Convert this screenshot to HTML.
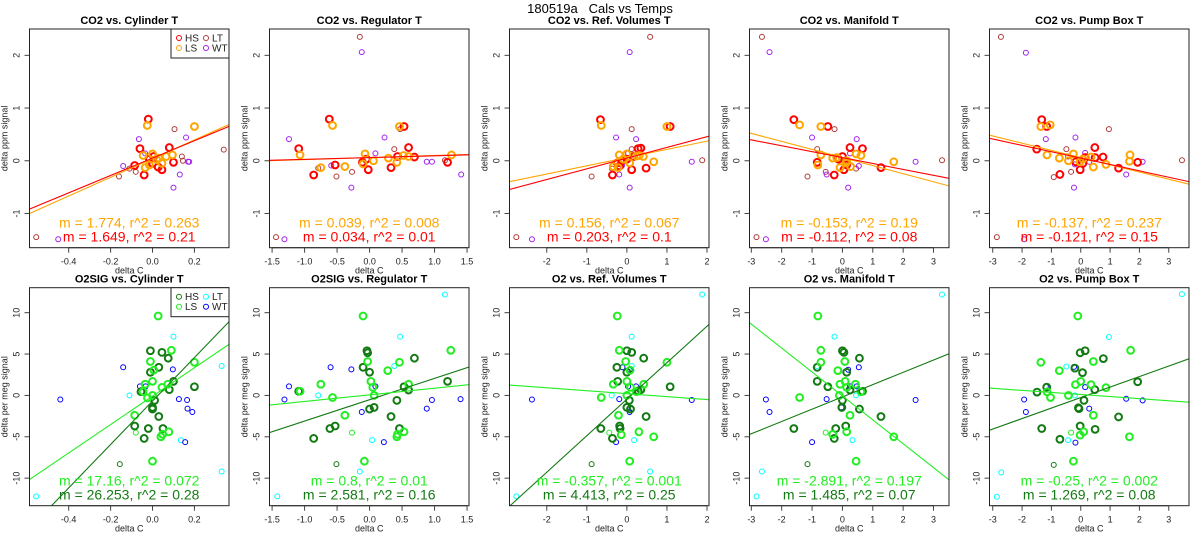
<!DOCTYPE html>
<html><head><meta charset="utf-8">
<style>
html,body{margin:0;padding:0;background:#fff;}
svg{display:block;font-family:"Liberation Sans",sans-serif;}
</style></head>
<body>
<svg id="chart" width="1200" height="550" viewBox="0 0 1200 550" xmlns="http://www.w3.org/2000/svg">
<rect x="0" y="0" width="1200" height="550" fill="#fff"/>
<text x="600" y="13" text-anchor="middle" font-size="13" fill="#000">180519a&#160;&#160;&#160;Cals vs Temps</text>
</svg>
<script>
// ---- data (top row: CO2, bottom row: O2) ----
const panelTitles = ["CO2 vs. Cylinder T","CO2 vs. Regulator T","CO2 vs. Ref. Volumes T","CO2 vs. Manifold T","CO2 vs. Pump Box T",
 "O2SIG vs. Cylinder T","O2SIG vs. Regulator T","O2 vs. Ref. Volumes T","O2 vs. Manifold T","O2 vs. Pump Box T"];
const xLimits = [[-0.587,0.365],[-1.54,1.53],[-2.93,2.05],[-3.06,3.51],[-3.11,3.69],
 [-0.587,0.365],[-1.54,1.53],[-2.93,2.05],[-3.06,3.51],[-3.11,3.69]];
const xTicks = [[-0.4,-0.2,0,0.2],[-1.5,-1,-0.5,0,0.5,1,1.5],[-2,-1,0,1,2],[-3,-2,-1,0,1,2,3],[-3,-2,-1,0,1,2,3]];
const xTickLabels = [["-0.4","-0.2","0.0","0.2"],["-1.5","-1.0","-0.5","0.0","0.5","1.0","1.5"],["-2","-1","0","1","2"],["-3","-2","-1","0","1","2","3"],["-3","-2","-1","0","1","2","3"]];
const yLimitsTop = [-1.65,2.5];
const yLimitsBottom = [-13.33,13.02];
const yTicksTop = [-1,0,1,2];
const yTicksBottom = [-10,-5,0,5,10];

const seriesHS = [
 [[-0.02,0.79],[-0.06,0.23],[-0.085,-0.09],[-0.04,-0.27],[-0.015,0.03],[0.005,0.08],[0.027,-0.12],[0.045,-0.17],[0.08,0.25],[0.1,-0.03],[0,-0.05]],
 [[-0.62,0.79],[-1.09,0.23],[-0.86,-0.27],[-0.53,-0.08],[-0.11,-0.03],[-0.02,-0.17],[0.33,-0.13],[0.53,0.65],[0.6,0.25],[0.43,0.08],[0.69,0.07],[1.2,-0.03],[-0.05,0.03]],
 [[-0.66,0.78],[-0.36,-0.27],[-0.24,-0.04],[0.28,0.23],[0.35,0.24],[0.12,-0.17],[0.48,-0.14],[1.08,0.65],[0,0.03],[-0.13,0],[0.16,0.08],[-0.18,-0.1]],
 [[-1.6,0.78],[-0.48,0.65],[-0.83,-0.03],[-0.27,-0.27],[0.25,0.25],[0.66,0.23],[0.05,-0.17],[1.27,-0.13],[0,0.08],[0.14,-0.08],[-0.13,0.03]],
 [[-1.33,0.78],[-1.16,0.65],[-1.5,0.22],[-0.71,-0.26],[-0.17,-0.02],[-0.02,-0.17],[0.48,0.25],[0.49,0.06],[0.76,0.07],[1.29,-0.14],[1.94,-0.03],[0.07,-0.05],[0.15,0.06]],
 [[-0.01,5.4],[0.045,5.2],[0.075,4.5],[0.03,3.4],[-0.01,2.8],[0.1,1.7],[0.08,0.7],[0.2,1.05],[0.01,-0.6],[0,-1.45],[0,-1.65],[0.03,-2.55],[-0.085,-3.7],[-0.02,-4.0],[0.05,-4.0],[-0.04,-5.2],[-0.055,0.45]],
 [[-0.04,5.4],[-0.03,5.15],[-0.1,3.4],[0,2.8],[0.69,4.5],[0.53,1.05],[0.6,0.65],[1.2,1.7],[0.42,-0.6],[0,-1.65],[0.07,-1.45],[0.33,-2.55],[-0.61,-4.0],[-0.53,-3.7],[0.46,-4.0],[-0.86,-5.2],[-1.09,0.5]],
 [[0,5.4],[0.12,5.2],[0.42,4.5],[-0.25,3.4],[0,2.8],[-0.23,1.7],[0.35,0.7],[1.08,1.05],[0.06,-0.6],[0,-1.45],[0.09,-1.65],[0.48,-2.55],[-0.18,-3.7],[-0.65,-4.0],[-0.17,-4.0],[-0.36,-5.2],[0.28,0.55]],
 [[0,5.4],[0.05,5.2],[0.56,4.5],[-0.83,3.4],[0.14,2.8],[-0.83,1.7],[-0.48,1.05],[0.25,0.65],[0,-0.6],[-0.02,-1.45],[0.56,-1.65],[1.27,-2.55],[0.11,-3.7],[-1.6,-4.0],[-0.22,-4.0],[-0.27,-5.2],[0.66,0.5]],
 [[-0.02,5.15],[0.15,5.4],[0.77,4.45],[-0.2,3.3],[0.06,2.75],[1.94,1.65],[0.48,0.7],[-1.16,1.0],[-1.49,0.4],[0.11,-0.6],[-0.08,-1.5],[-0.06,-1.6],[1.29,-2.6],[-0.02,-3.7],[-1.33,-4.0],[0.49,-4.1],[-0.71,-5.3]]
];
const seriesLS = [
 [[-0.025,0.67],[0.2,0.65],[-0.045,0.1],[-0.035,-0.13],[0,0.13],[-0.015,-0.08],[0.02,0.02],[0.045,-0.05],[0.065,0.08],[0.095,0.11],[0.03,0.05]],
 [[-0.57,0.67],[0.46,0.65],[-1.07,0.11],[-0.75,-0.13],[-0.38,-0.11],[-0.07,0.13],[-0.1,-0.06],[0.06,0],[0.29,0.05],[0.42,-0.03],[0.52,0.1],[1.26,0.11],[0.6,0.08]],
 [[-0.64,0.67],[1.0,0.65],[0.67,-0.02],[-0.19,0.11],[-0.34,-0.11],[-0.22,-0.13],[0,0.13],[0.07,-0.04],[0.24,0.09],[0.41,0.08],[-0.09,0.03],[0.31,0.1]],
 [[-1.41,0.68],[-0.71,0.65],[-0.71,0.11],[-0.81,-0.08],[-0.32,0.05],[-0.19,0.06],[-0.08,-0.13],[0.27,-0.11],[0.45,0.13],[0.61,0.1],[1.69,-0.02],[0.14,0],[0.12,-0.04]],
 [[-1.36,0.65],[-1.04,0.68],[-1.15,0.11],[-0.73,0.05],[-0.42,0],[-0.25,0.13],[-0.02,-0.02],[0.35,0.07],[0.43,-0.12],[0.86,-0.07],[1.68,0.11],[1.66,-0.01],[0.07,0.03]],
 [[0.027,9.6],[0.09,5.45],[-0.01,4.1],[0.2,4.0],[0.006,3.05],[0,1.7],[-0.035,1.35],[0.073,1.35],[0.045,0.97],[0,0],[-0.024,-0.3],[-0.085,-2.4],[0.078,-4.4],[0.048,-4.7],[0.04,-5.0],[0,-7.95],[-0.045,0.45]],
 [[-0.1,9.6],[1.25,5.45],[-0.03,4.1],[0.46,4.0],[0.28,3.0],[0.02,1.7],[-0.75,1.35],[0.6,1.35],[0.05,0.97],[0.07,0],[-0.57,-0.25],[-0.38,-2.4],[0.53,-4.4],[0.43,-4.7],[0.42,-5.0],[-0.08,-7.95],[-1.07,0.5]],
 [[-0.24,9.6],[-0.19,5.45],[-0.03,4.1],[1.0,4.0],[0.08,3.05],[0,1.7],[-0.34,1.35],[0.42,1.35],[0.09,0.97],[0,0],[-0.64,-0.25],[-0.21,-2.4],[0.3,-4.4],[-0.14,-4.75],[0.67,-5.0],[0.07,-7.95],[0.24,0.45]],
 [[-0.81,9.6],[-0.71,5.45],[0.08,4.1],[-0.71,4.0],[-0.15,3.0],[0.09,1.7],[-0.08,1.35],[0.43,1.35],[0.14,0.97],[-0.1,0],[-1.41,-0.25],[0.25,-2.4],[0.14,-4.4],[-0.32,-4.7],[1.69,-5.0],[0.45,-7.95],[0.61,0.45]],
 [[-0.1,9.6],[1.7,5.45],[-1.36,4.0],[0.43,4.1],[-0.73,3.0],[0,1.7],[-0.18,1.3],[0.35,1.3],[0.86,0.94],[-0.42,0],[-1.03,-0.25],[-1.15,0.43],[0.43,-2.4],[0.1,-4.4],[-0.02,-4.8],[1.66,-5.0],[-0.25,-7.95]]
];
const seriesLT = [
 [[-0.555,-1.45],[-0.16,-0.3],[-0.11,-0.15],[0.105,0.6],[0.14,0.08],[0.145,0.0],[0.34,0.21],[-0.08,-0.21]],
 [[-1.44,-1.45],[-0.15,2.35],[-0.79,-0.14],[-0.51,-0.3],[0.38,0.22],[0.47,0.6],[1.16,0.01],[-0.27,-0.21]],
 [[-2.76,-1.45],[0.58,2.35],[-0.88,-0.3],[0.12,0.6],[0.12,0.22],[-0.37,-0.15],[1.88,0.01],[0.18,0.1]],
 [[-2.83,-1.45],[-2.65,2.35],[-0.26,0.6],[-0.83,0.22],[-1.15,-0.3],[0.45,-0.15],[3.28,0.01],[-0.55,-0.21]],
 [[-2.86,-1.45],[-2.72,2.35],[0.96,0.6],[-0.49,0.22],[-0.92,-0.31],[-0.43,0.08],[3.45,0.01],[-0.33,-0.21]],
 [[-0.555,-12.2],[-0.11,0],[0.1,7.1],[0.33,3.55],[0.135,-5.4],[0.33,-9.2]],
 [[-1.42,-12.2],[-0.79,0],[0.47,7.1],[0.38,3.55],[0.04,-5.4],[-0.15,-9.2],[1.16,12.2]],
 [[-2.76,-12.2],[-0.38,0],[0.12,7.1],[0.12,3.55],[0.18,-5.4],[0.58,-9.2],[1.88,12.2]],
 [[-2.83,-12.2],[0.45,0],[-0.26,7.1],[-0.83,3.55],[0.33,-5.4],[-2.65,-9.2],[3.28,12.2]],
 [[-2.86,-12.25],[-2.71,-9.3],[-0.49,3.5],[-0.2,0],[0.96,7.06],[-0.43,-5.4],[3.45,12.25]]
];
const seriesWT = [
 [[-0.45,-1.49],[-0.14,-0.1],[-0.065,0.41],[-0.035,0.14],[0.16,0.44],[0.13,-0.26],[0.1,-0.51],[0.17,-0.02],[0.175,-0.02]],
 [[-1.31,-1.49],[-1.24,0.41],[-0.59,-0.09],[-0.12,2.06],[-0.28,-0.51],[0.09,0.14],[0.23,0.44],[0.88,-0.02],[0.96,-0.02],[1.41,-0.26]],
 [[-2.37,-1.49],[0.07,2.06],[-0.27,0.44],[0.23,0.41],[-0.19,-0.26],[0.07,-0.51],[1.62,-0.02],[-0.12,-0.09],[0.03,0.14]],
 [[-2.52,-1.49],[-2.4,2.06],[-1.0,0.44],[0.47,0.41],[-0.52,-0.26],[0.19,-0.51],[2.41,-0.02],[-0.03,-0.02],[0.54,-0.1],[0.25,0.14]],
 [[-1.93,-1.49],[-1.87,2.05],[-1.19,0.41],[-0.18,0.44],[-0.23,-0.51],[1.55,-0.26],[2.11,-0.02],[0.29,-0.02],[-0.2,-0.07],[0.15,0.15]],
 [[-0.44,-0.5],[-0.14,3.4],[-0.06,1.1],[-0.033,1.1],[0.097,3.15],[0.126,-0.45],[0.165,-0.55],[0.167,-1.6],[0.19,-2.0],[0.156,-5.65]],
 [[-1.31,-0.5],[-1.24,1.1],[-0.6,3.4],[-0.28,3.15],[-0.12,-2.0],[0.09,1.1],[0.22,-5.65],[0.88,-1.6],[0.96,-0.55],[1.4,-0.45]],
 [[-2.37,-0.5],[-0.11,3.4],[0.03,1.1],[0.23,1.1],[0.07,3.1],[-0.19,-0.45],[1.62,-0.55],[0.12,-1.6],[0.07,-2.0],[-0.27,-5.65]],
 [[-2.52,-0.5],[-2.4,-2.0],[-1.0,-5.65],[-0.52,-0.45],[0.19,3.1],[0.47,1.1],[0.54,3.4],[-0.03,-1.45],[0.25,1.1],[2.41,-0.55]],
 [[-1.93,-0.5],[-1.87,-2.0],[-1.19,1.1],[-0.18,-5.7],[-0.23,3.45],[0.15,1.0],[0.29,-1.6],[1.55,-0.4],[2.11,-0.6]]
];
const seriesHSThin = [[],[],[],[],[],[[-0.156,-8.3]],[[-0.51,-8.3]],[[-0.88,-8.3]],[[-1.15,-8.3]],[[-0.92,-8.4]]];
const seriesLSThin = [[],[],[],[],[],[[-0.08,-4.5]],[[-0.27,-4.5]],[[-0.44,-4.5]],[[-0.55,-4.5]],[[-0.33,-4.5]]];
const slopesHS = [1.649,0.034,0.203,-0.112,-0.121,26.253,2.581,4.413,1.485,1.269];
const interceptsHS = [0.05,0.06,0.05,0.06,0.05,-0.68,-0.52,-0.46,-0.18,-0.26];
const slopesLS = [1.774,0.039,0.156,-0.153,-0.137,17.16,0.8,-0.357,-2.891,-0.25];
const interceptsLS = [0.04,0.06,0.06,0.06,0.06,-0.09,0.07,0.21,-0.06,0.11];
const fitLabelsLS = ["m = 1.774, r^2 = 0.263","m = 0.039, r^2 = 0.008","m = 0.156, r^2 = 0.067","m = -0.153, r^2 = 0.19","m = -0.137, r^2 = 0.237",
 "m = 17.16, r^2 = 0.072","m = 0.8, r^2 = 0.01","m = -0.357, r^2 = 0.001","m = -2.891, r^2 = 0.197","m = -0.25, r^2 = 0.002"];
const fitLabelsHS = ["m = 1.649, r^2 = 0.21","m = 0.034, r^2 = 0.01","m = 0.203, r^2 = 0.1","m = -0.112, r^2 = 0.08","m = -0.121, r^2 = 0.15",
 "m = 26.253, r^2 = 0.28","m = 2.581, r^2 = 0.16","m = 4.413, r^2 = 0.25","m = 1.485, r^2 = 0.07","m = 1.269, r^2 = 0.08"];
const legendLabels = ["HS","LS","LT","WT"];

const NS="http://www.w3.org/2000/svg";
const svg=document.getElementById('chart');
function mk(tag,attrs,parent){const e=document.createElementNS(NS,tag);for(const k in attrs)e.setAttribute(k,attrs[k]);(parent||svg).appendChild(e);return e;}

const topColors={hs:"#ff0000",ls:"#ffa500",lt:"#b03a3a",wt:"#a020f0"};
const botColors={hs:"#137a13",ls:"#22ee22",lt:"#00ffff",wt:"#0000ff"};

for(let p=0;p<10;p++){
  const row=p<5?0:1, col=p%5;
  const L=29.5+240*col, W=199.5;
  const T=row?287.7:29, B=row?505.7:247.7;
  const xl=xLimits[p], yl=row?yLimitsBottom:yLimitsTop;
  const sx=v=>L+(v-xl[0])/(xl[1]-xl[0])*W;
  const sy=v=>B-(v-yl[0])/(yl[1]-yl[0])*(B-T);
  const C=row?botColors:topColors;
  const g=mk('g',{});
  
  
  const cp=mk('clipPath',{id:'cp'+p},g);
  mk('rect',{x:L,y:T,width:W,height:B-T},cp);
  const t=mk('text',{x:L+W/2,y:T-5,'text-anchor':'middle','font-size':'11','font-weight':'bold'},g);
  t.textContent=panelTitles[p];
  
  
  xTicks[col].forEach((v,i)=>{
    const x=sx(v);
    const tk=mk('line',{x1:x,x2:x,y1:B,y2:B+5,stroke:'#444','stroke-width':1},g);
    
    
    const tl=mk('text',{x:x,y:B+17,'text-anchor':'middle','font-size':'9',fill:'#222'},g);
    tl.textContent=xTickLabels[col][i];
    
    
  });
  const xa=mk('line',{x1:sx(xTicks[col][0]),x2:sx(xTicks[col][xTicks[col].length-1]),y1:B,y2:B,stroke:'#444'},g);
  
  
  const xt=mk('text',{x:L+W/2,y:B+26,'text-anchor':'middle','font-size':'9',fill:'#222'},g);
  xt.textContent='delta C';
  
  
  const yt=row?yTicksBottom:yTicksTop;
  yt.forEach(v=>{
    const y=sy(v);
    const tk=mk('line',{x1:L-5,x2:L,y1:y,y2:y,stroke:'#444'},g);
    
    
    const tl=mk('text',{x:L-10,y:y,'text-anchor':'middle','font-size':'9',fill:'#222',transform:`rotate(-90 ${L-10} ${y})`},g);
    tl.textContent=String(v);
    
    
  });
  const ya=mk('line',{x1:L,x2:L,y1:sy(yt[0]),y2:sy(yt[yt.length-1]),stroke:'#444'},g);
  
  
  const yTitle=row?'delta per meg signal':'delta ppm signal';
  const ytx=mk('text',{x:L-22,y:(T+B)/2,'text-anchor':'middle','font-size':'9',fill:'#222',transform:`rotate(-90 ${L-22} ${(T+B)/2})`},g);
  ytx.textContent=yTitle;
  
  
  const pa=mk('g',{'clip-path':`url(#cp${p})`},g);
  function pts(arr,color,r,sw,name){
    arr.forEach(d=>{
      const c=mk('circle',{cx:sx(d[0]),cy:sy(d[1]),r:r,fill:'none',stroke:color,'stroke-width':sw},pa);
      
      
    });
  }
  pts(seriesLT[p],C.lt,2.5,1,'point-lt');
  pts(seriesWT[p],C.wt,2.5,1,'point-wt');
  pts(seriesHSThin[p],C.hs,2.5,1,'point-hs');
  pts(seriesLSThin[p],C.ls,2.5,1,'point-ls');
  pts(seriesHS[p],C.hs,3.4,2,'point-hs');
  pts(seriesLS[p],C.ls,3.4,2,'point-ls');
  function fit(m,b,color,name){
    const ln=mk('line',{x1:sx(xl[0]),y1:sy(m*xl[0]+b),x2:sx(xl[1]),y2:sy(m*xl[1]+b),stroke:color,'stroke-width':1.1},pa);
    
    
  }
  if(row){fit(slopesHS[p],interceptsHS[p],C.hs,'fit-line-hs');fit(slopesLS[p],interceptsLS[p],C.ls,'fit-line-ls');}
  else{fit(slopesLS[p],interceptsLS[p],C.ls,'fit-line-ls');fit(slopesHS[p],interceptsHS[p],C.hs,'fit-line-hs');}
  const t1=mk('text',{x:L+W/2,y:B-20,'text-anchor':'middle','font-size':'14',fill:C.ls},g);
  t1.textContent=fitLabelsLS[p];
  
  
  const t2=mk('text',{x:L+W/2,y:B-6,'text-anchor':'middle','font-size':'14',fill:C.hs},g);
  t2.textContent=fitLabelsHS[p];
  
  
  const box=mk('rect',{x:L,y:T,width:W,height:B-T,fill:'none',stroke:'#222','stroke-width':1},g);
  
  
  if(col===0){
    const lg=mk('g',{},g);
    
    
    const bx=L+W-58;
    mk('rect',{x:bx,y:T,width:58,height:29,fill:'#fff',stroke:'#222'},lg);
    const cols=[C.hs,C.ls,C.lt,C.wt];
    const pos=[[bx+8,T+9],[bx+8,T+19],[bx+35,T+9],[bx+35,T+19]];
    for(let i=0;i<4;i++){
      const e=mk('g',{},lg);
      
      
      mk('circle',{cx:pos[i][0],cy:pos[i][1],r:2.5,fill:'none',stroke:cols[i],'stroke-width':1},e);
      const lt=mk('text',{x:pos[i][0]+6,y:pos[i][1]+3.5,'font-size':'10',fill:'#222'},e);
      lt.textContent=legendLabels[i];
    }
  }
}
</script>
</body></html>
